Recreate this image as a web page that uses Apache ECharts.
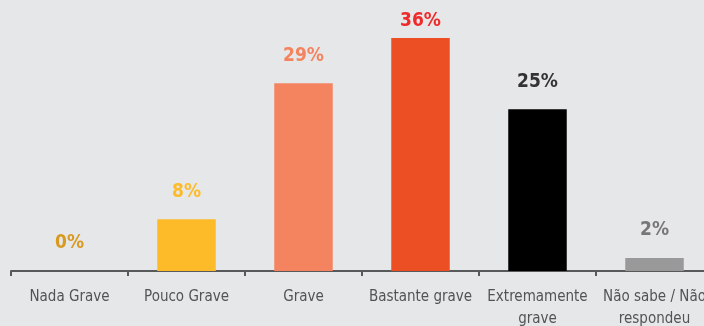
<!DOCTYPE html>
<html><head><meta charset="utf-8">
<script src="https://cdn.jsdelivr.net/npm/echarts@6/dist/echarts.min.js"></script>
<style>html,body{margin:0;padding:0;background:#E6E7E8;}#c{width:704px;height:326px;}</style>
</head><body><div id="c"></div>
<script>
const categories = ['Nada Grave', 'Pouco Grave', 'Grave', 'Bastante grave', 'Extremamente\ngrave', 'Não sabe / Não\nrespondeu'];
const values = [0, 8, 29, 36, 25, 2];
const valueLabels = ['0%', '8%', '29%', '36%', '25%', '2%'];
const barColors = ['#D99A22', '#FDBB2A', '#F48460', '#EC4F24', '#000000', '#999999'];
const labelColors = ['#D99A22', '#FDBB2A', '#F48460', '#EE2A2A', '#333333', '#777777'];
const labelDistances = [18, 18, 18, 7, 18, 18];

const FONT = '"DejaVu Sans Condensed", sans-serif';
const chart = echarts.init(document.getElementById('c'));
chart.setOption({
  backgroundColor: '#E6E7E8',
  animation: false,
  grid: { left: 11, width: 702, top: 12, height: 259, outerBoundsMode: 'none', containLabel: false },
  xAxis: {
    type: 'category', data: categories,
    axisLine: { lineStyle: { color: '#58595B', width: 2 } },
    axisTick: { show: true, length: 5, lineStyle: { color: '#58595B', width: 2 } },
    axisLabel: { color: '#525355', fontFamily: FONT, fontSize: 15, margin: 15, lineHeight: 22, interval: 0 }
  },
  yAxis: { type: 'value', min: 0, max: 40, show: false, splitLine: { show: false } },
  series: [{
    type: 'bar', barWidth: '50%',
    data: values.map((v, i) => ({
      value: v,
      itemStyle: { color: barColors[i] },
      label: { show: true, position: 'top', distance: labelDistances[i], formatter: valueLabels[i],
               color: labelColors[i], fontFamily: FONT, fontWeight: 'bold', fontSize: 19 }
    }))
  }]
});
</script></body></html>
